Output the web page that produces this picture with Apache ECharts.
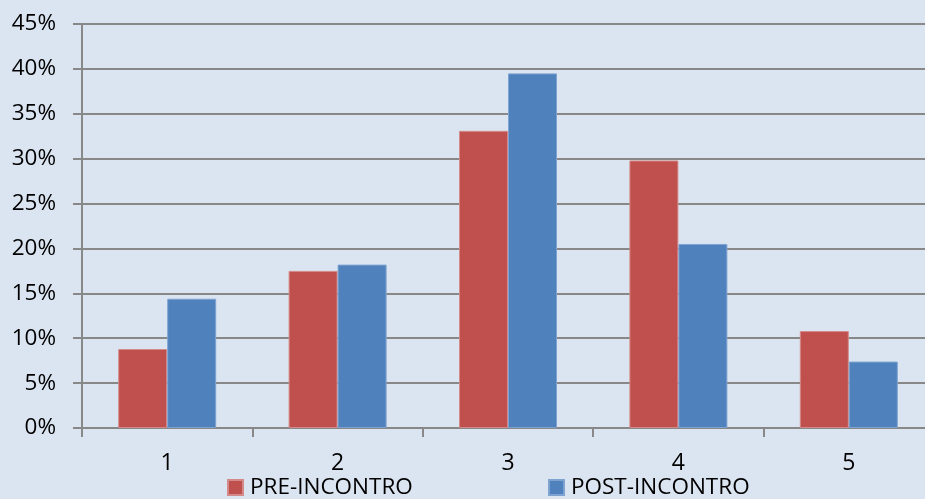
<!DOCTYPE html>
<html>
<head>
<meta charset="utf-8">
<script src="https://cdn.jsdelivr.net/npm/echarts@6/dist/echarts.min.js"></script>
<style>
  html, body { margin: 0; padding: 0; background: #dbe5f1; overflow: hidden; }
  #chart { width: 940px; height: 499px; }
</style>
</head>
<body>
<div id="chart"></div>
<script>
// Response scale (1-5) and share of answers, before and after the meeting
const categories = ['1', '2', '3', '4', '5'];
const preIncontro = [8.8, 17.5, 33.1, 29.8, 10.8];
const postIncontro = [14.4, 18.2, 39.5, 20.5, 7.4];
const seriesNames = ['PRE-INCONTRO', 'POST-INCONTRO'];

const FONT = '"Open Sans", "Liberation Sans", sans-serif';
const GRID_COLOR = '#888888';

const chart = echarts.init(document.getElementById('chart'), null, { renderer: 'canvas' });

function legendFor(name, left) {
  return {
    data: [name],
    left: left, top: 476,
    padding: 0,
    itemWidth: 15, itemHeight: 15,
    itemGap: 0,
    icon: 'rect',
    textStyle: { fontFamily: FONT, fontSize: 22.5, color: '#000', padding: [0, 0, 0, 2] }
  };
}

chart.setOption({
  backgroundColor: '#dbe5f1',
  animation: false,
  grid: { left: 82, top: 24, width: 852, height: 404, containLabel: false },
  legend: [legendFor(seriesNames[0], 227), legendFor(seriesNames[1], 548)],
  xAxis: {
    type: 'category',
    data: categories,
    boundaryGap: true,
    axisLine: { lineStyle: { color: GRID_COLOR, width: 2 } },
    axisTick: { show: true, length: 9, lineStyle: { color: GRID_COLOR, width: 2 } },
    axisLabel: { fontFamily: FONT, fontSize: 23, color: '#000', margin: 24 }
  },
  yAxis: {
    type: 'value',
    min: 0, max: 45, interval: 5,
    axisLine: { show: true, lineStyle: { color: GRID_COLOR, width: 2 } },
    axisTick: { show: true, length: 9, lineStyle: { color: GRID_COLOR, width: 2 } },
    splitLine: { show: true, lineStyle: { color: GRID_COLOR, width: 2 } },
    axisLabel: { fontFamily: FONT, fontSize: 22.5, color: '#000', margin: 26, formatter: '{value}%' }
  },
  series: [
    {
      name: seriesNames[0],
      type: 'bar',
      data: preIncontro,
      barWidth: 49,
      barGap: '0%',
      itemStyle: { color: '#c0504d', borderColor: '#d48a88', borderWidth: 1 }
    },
    {
      name: seriesNames[1],
      type: 'bar',
      data: postIncontro,
      barWidth: 49,
      itemStyle: { color: '#4f81bd', borderColor: '#7fa3d1', borderWidth: 1 }
    }
  ]
});
</script>
</body>
</html>
